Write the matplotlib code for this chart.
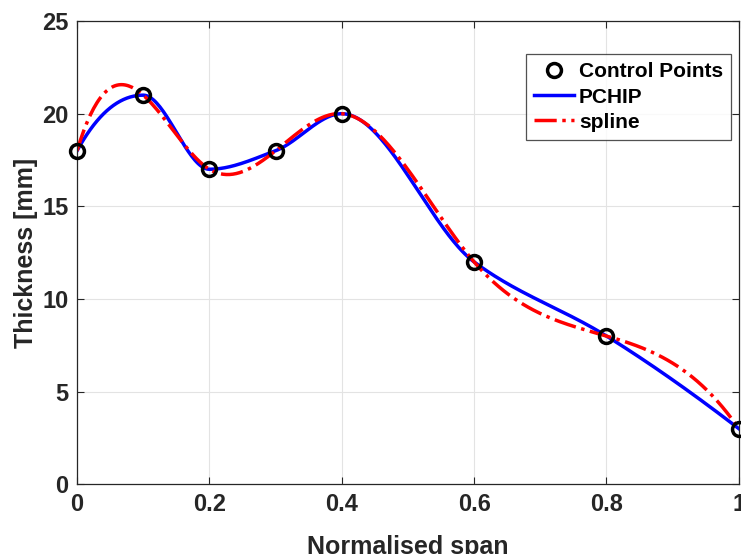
import numpy as np
import matplotlib
matplotlib.use('Agg')
import matplotlib.pyplot as plt

# control points
span = [0, 0.1, 0.2, 0.3, 0.4, 0.6, 0.8, 1.0]
thick = [18, 21, 17, 18, 20, 12, 8, 3]

xticks = [0, 0.2, 0.4, 0.6, 0.8, 1]
xticklabels = ['0', '0.2', '0.4', '0.6', '0.8', '1']
yticks = [0, 5, 10, 15, 20, 25]


# shape preserving piecewise cubic hermite (same rule as matlab pchip)
def pchip_slopes(x, y):
    h = np.diff(x)
    d = np.diff(y) / h
    n = len(x)
    s = np.zeros(n)
    for k in range(1, n - 1):
        if d[k-1] * d[k] > 0:
            w1 = 2*h[k] + h[k-1]
            w2 = h[k] + 2*h[k-1]
            s[k] = (w1 + w2) / (w1/d[k-1] + w2/d[k])
    def end(h0, h1, d0, d1):
        v = ((2*h0 + h1)*d0 - h0*d1) / (h0 + h1)
        if np.sign(v) != np.sign(d0):
            v = 0.0
        elif np.sign(d0) != np.sign(d1) and abs(v) > abs(3*d0):
            v = 3*d0
        return v
    s[0] = end(h[0], h[1], d[0], d[1])
    s[-1] = end(h[-1], h[-2], d[-1], d[-2])
    return s


def hermite(x, y, s, xx):
    x = np.asarray(x, float)
    y = np.asarray(y, float)
    i = np.clip(np.searchsorted(x, xx) - 1, 0, len(x) - 2)
    h = x[i+1] - x[i]
    t = (xx - x[i]) / h
    h00 = 2*t**3 - 3*t**2 + 1
    h10 = t**3 - 2*t**2 + t
    h01 = -2*t**3 + 3*t**2
    h11 = t**3 - t**2
    return h00*y[i] + h10*h*s[i] + h01*y[i+1] + h11*h*s[i+1]


# cubic spline with not-a-knot ends (matlab spline)
def spline_eval(x, y, xx):
    x = np.asarray(x, float)
    y = np.asarray(y, float)
    m = len(x) - 1
    A = np.zeros((4*m, 4*m))
    b = np.zeros(4*m)
    r = 0
    for i in range(m):
        h = x[i+1] - x[i]
        A[r, 4*i] = 1; b[r] = y[i]; r += 1
        A[r, 4*i:4*i+4] = [1, h, h**2, h**3]; b[r] = y[i+1]; r += 1
    for i in range(m - 1):
        h = x[i+1] - x[i]
        A[r, 4*i:4*i+4] = [0, 1, 2*h, 3*h**2]; A[r, 4*(i+1)+1] = -1; r += 1
        A[r, 4*i:4*i+4] = [0, 0, 2, 6*h]; A[r, 4*(i+1)+2] = -2; r += 1
    A[r, 3] = 1; A[r, 7] = -1; r += 1
    A[r, 4*(m-2)+3] = 1; A[r, 4*(m-1)+3] = -1
    c = np.linalg.solve(A, b).reshape(m, 4)
    i = np.clip(np.searchsorted(x, xx) - 1, 0, m - 1)
    t = xx - x[i]
    return c[i, 0] + c[i, 1]*t + c[i, 2]*t**2 + c[i, 3]*t**3


xx = np.linspace(0, 1, 400)
y_pchip = hermite(span, thick, pchip_slopes(np.array(span, float), np.array(thick, float)), xx)
y_spline = spline_eval(span, thick, xx)

plt.rcParams['font.family'] = ['Liberation Sans', 'DejaVu Sans']
plt.rcParams['font.weight'] = 'bold'

fig = plt.figure(figsize=(7.41, 5.54), dpi=100)
ax = fig.add_axes([0.104, 0.126, 0.893, 0.836])

ax.plot(span, thick, 'o', ms=10, mfc='none', mec='black', mew=2.5,
        label='Control Points', clip_on=False, zorder=5)
ax.plot(xx, y_pchip, '-', color='#0000ff', lw=2.5, label='PCHIP')
ax.plot(xx, y_spline, '-.', color='#ff0000', lw=2.5, label='spline')

ax.set_xlim(0, 1)
ax.set_ylim(0, 25)
ax.set_xticks(xticks)
ax.set_xticklabels(xticklabels)
ax.set_yticks(yticks)
ax.grid(True, color='#e3e3e3', lw=0.8)
ax.set_axisbelow(True)
ax.tick_params(direction='in', labelsize=17, length=5, width=0.8,
               color='#262626', labelcolor='#262626', top=True, right=True,
               labeltop=False, labelright=False, pad=6)
for sp in ax.spines.values():
    sp.set_color('#262626')
    sp.set_linewidth(0.9)

ax.set_xlabel('Normalised span', fontsize=18, fontweight='bold', color='#262626', labelpad=14)
ax.set_ylabel('Thickness [mm]', fontsize=18, fontweight='bold', color='#262626', labelpad=3)

leg = ax.legend(loc='upper right', bbox_to_anchor=(0.989, 0.929), fontsize=15,
                frameon=True, fancybox=False, edgecolor='#262626',
                handlelength=1.9, handletextpad=0.25, borderpad=0.4,
                labelspacing=0.3, borderaxespad=0)
leg.get_frame().set_linewidth(0.9)
for t in leg.get_texts():
    t.set_fontweight('bold')

fig.savefig('out.png', dpi=100)
